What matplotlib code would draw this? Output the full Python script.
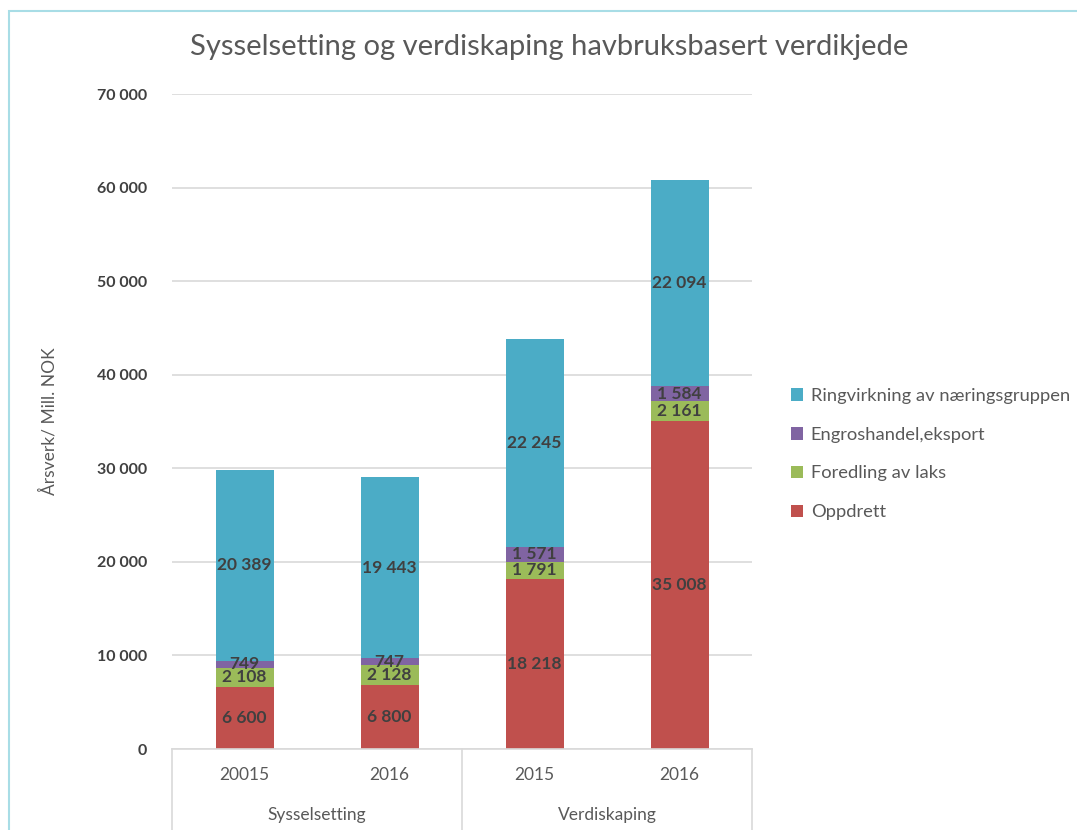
import matplotlib.pyplot as plt
from matplotlib.patches import Rectangle
import matplotlib.transforms as mtransforms

plt.rcParams['font.family'] = ['Lato', 'DejaVu Sans']

years = ["20015", "2016", "2015", "2016"]
groups = ["Sysselsetting", "Verdiskaping"]
oppdrett = [6600, 6800, 18218, 35008]
foredling = [2108, 2128, 1791, 2161]
engros = [749, 747, 1571, 1584]
ringvirkning = [20389, 19443, 22245, 22094]

series = [
    ("Oppdrett", oppdrett, "#C0504D"),
    ("Foredling av laks", foredling, "#9BBB59"),
    ("Engroshandel,eksport", engros, "#8064A2"),
    ("Ringvirkning av næringsgruppen", ringvirkning, "#4BACC6"),
]

W, H = 1077, 830
fig = plt.figure(figsize=(W / 100, H / 100), dpi=100)
ax = fig.add_axes([172 / W, 1 - 749 / H, 580 / W, (749 - 94) / H])

# light frame around the chart (only top/left visible in the reference)
fig.patches.append(Rectangle((9 / W, -0.1), 1.2, 1 - 11 / H + 0.1, transform=fig.transFigure,
                             fill=False, edgecolor="#A8DDE6", linewidth=1.5))

x = range(len(years))
bottom = [0] * len(years)
handles = []
for name, vals, color in series:
    bars = ax.bar(x, vals, 0.4, bottom=bottom, color=color, label=name, zorder=2)
    handles.append(bars)
    for i, v in enumerate(vals):
        ax.text(i, bottom[i] + v / 2, f"{v:,}".replace(",", " "), ha="center", va="center",
                fontsize=12.5, fontweight="bold", color="#404040", zorder=3)
    bottom = [b + v for b, v in zip(bottom, vals)]

ax.set_xlim(-0.5, 3.5)
ax.set_ylim(0, 70000)
ax.set_yticks(range(0, 70001, 10000))
ax.set_yticklabels([f"{t:,}".replace(",", " ") for t in range(0, 70001, 10000)],
                   fontsize=11.5, fontweight="bold", color="#404040")
ax.yaxis.grid(True, color="#D9D9D9", linewidth=1.2, zorder=0)
ax.set_axisbelow(True)
ax.tick_params(axis="y", length=0, pad=18)
ax.tick_params(axis="x", length=0)
ax.set_xticks([])
for s in ["top", "right", "left"]:
    ax.spines[s].set_visible(False)
ax.spines["bottom"].set_color("#D9D9D9")
ax.spines["bottom"].set_linewidth(1.2)

# two-level category axis
trans = mtransforms.blended_transform_factory(ax.transData, ax.transAxes)
for xv in [-0.5, 1.5, 3.5]:
    ax.plot([xv, xv], [0, -0.13], transform=trans, color="#D9D9D9", linewidth=1.2, clip_on=False)
for i, lab in enumerate(years):
    ax.text(i, -0.04, lab, transform=trans, ha="center", va="center", fontsize=12.5, color="#595959")
for g, lab in enumerate(groups):
    ax.text(g * 2 + 0.5, -0.101, lab, transform=trans, ha="center", va="center", fontsize=12.5,
            color="#595959")

ax.set_ylabel("Årsverk/ Mill. NOK", fontsize=12.5, color="#595959", labelpad=28)

fig.text(549 / W, 1 - 47 / H, "Sysselsetting og verdiskaping havbruksbasert verdikjede",
         ha="center", va="center", fontsize=21, color="#595959")

fig.legend(handles[::-1], [s[0] for s in series][::-1], loc="center left",
           bbox_to_anchor=(774 / W, 1 - 454 / H), frameon=False, fontsize=13.2,
           labelcolor="#595959", handlelength=0.7, handleheight=0.7, handletextpad=0.4,
           labelspacing=1.25)

fig.savefig("out.png", dpi=100)
